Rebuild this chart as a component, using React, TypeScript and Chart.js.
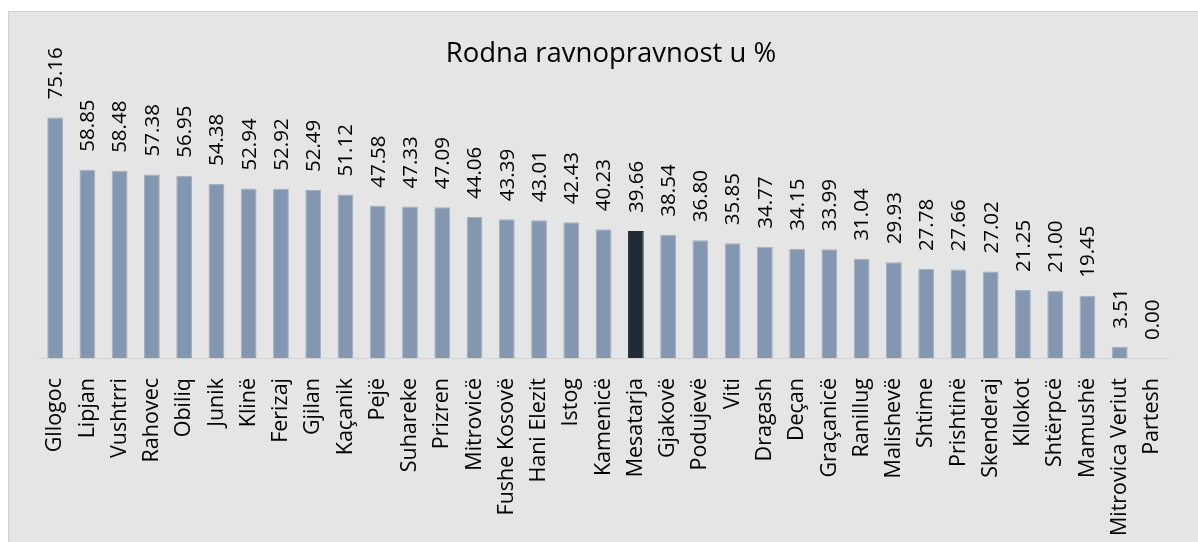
import React, { useEffect, useRef } from "react";
import { Chart, registerables } from "chart.js";

Chart.register(...registerables);

const titleText = "Rodna ravnopravnost u %";

const categories = [
  "Gllogoc", "Lipjan", "Vushtrri", "Rahovec", "Obiliq", "Junik", "Klinë", "Ferizaj", "Gjilan",
  "Kaçanik", "Pejë", "Suhareke", "Prizren", "Mitrovicë", "Fushe Kosovë", "Hani Elezit", "Istog",
  "Kamenicë", "Mesatarja", "Gjakovë", "Podujevë", "Viti", "Dragash", "Deçan", "Graçanicë",
  "Ranillug", "Malishevë", "Shtime", "Prishtinë", "Skenderaj", "Kllokot", "Shtërpcë", "Mamushë",
  "Mitrovica Veriut", "Partesh",
];

const values = [
  75.16, 58.85, 58.48, 57.38, 56.95, 54.38, 52.94, 52.92, 52.49,
  51.12, 47.58, 47.33, 47.09, 44.06, 43.39, 43.01, 42.43,
  40.23, 39.66, 38.54, 36.80, 35.85, 34.77, 34.15, 33.99,
  31.04, 29.93, 27.78, 27.66, 27.02, 21.25, 21.00, 19.45,
  3.51, 0.0,
];

const highlightCategory = "Mesatarja";

const FONT = "'Open Sans', sans-serif";
const BAR_COLOR = "#8497b0";
const HIGHLIGHT_COLOR = "#222a35";

const titlePlugin = {
  id: "customTitle",
  afterDraw(chart: any) {
    const ctx = chart.ctx;
    ctx.save();
    ctx.font = `27.5px ${FONT}`;
    ctx.fillStyle = "#000";
    ctx.textAlign = "center";
    ctx.textBaseline = "alphabetic";
    ctx.fillText(titleText, 602, 50);
    ctx.restore();
  },
};

const dataLabelPlugin = {
  id: "rotatedDataLabels",
  afterDatasetsDraw(chart: any) {
    const ctx = chart.ctx;
    const meta = chart.getDatasetMeta(0);
    ctx.save();
    ctx.font = `20.5px ${FONT}`;
    ctx.fillStyle = "#000";
    ctx.textAlign = "left";
    ctx.textBaseline = "middle";
    meta.data.forEach((bar: any, i: number) => {
      const v = values[i];
      ctx.save();
      ctx.translate(bar.x + 1, bar.y - 18);
      ctx.rotate(-Math.PI / 2);
      ctx.fillText(v.toFixed(2), 0, 0);
      ctx.restore();
    });
    ctx.restore();
  },
};

export default function App() {
  const canvasRef = useRef<HTMLCanvasElement | null>(null);

  useEffect(() => {
    if (!canvasRef.current) return;
    const chart = new Chart(canvasRef.current, {
      type: "bar",
      data: {
        labels: categories,
        datasets: [
          {
            data: values,
            backgroundColor: categories.map((c) => (c === highlightCategory ? HIGHLIGHT_COLOR : BAR_COLOR)),
            borderColor: categories.map((c) => (c === highlightCategory ? HIGHLIGHT_COLOR : "#a3b0c2")),
            borderWidth: 1,
            barPercentage: 0.49,
            categoryPercentage: 1,
          },
        ],
      },
      options: {
        animation: false,
        responsive: false,
        maintainAspectRatio: false,
        layout: { padding: { top: 90, left: 30, right: 15, bottom: 0 } },
        plugins: {
          legend: { display: false },
          title: { display: false },
          tooltip: { enabled: false },
        },
        scales: {
          x: {
            grid: { display: false, drawTicks: false },
            border: { display: true, color: "#d4d4d4", width: 1 },
            ticks: {
              minRotation: 90,
              maxRotation: 90,
              autoSkip: false,
              padding: 20,
              color: "#000",
              font: { family: FONT, size: 21.5 },
            },
            afterFit(scale: any) {
              scale.height = 184;
            },
          },
          y: {
            display: false,
            min: 0,
            max: 80,
          },
        },
      },
      plugins: [titlePlugin, dataLabelPlugin],
    });
    return () => chart.destroy();
  }, []);

  return (
    <div
      style={{
        position: "absolute",
        left: 8,
        top: 11,
        width: 1190,
        height: 531,
        background: "#e5e5e5",
        borderLeft: "1px solid #d0d0d0",
        borderTop: "1px solid #d0d0d0",
        boxSizing: "border-box",
        overflow: "hidden",
      }}
    >
      <canvas ref={canvasRef} width={1189} height={530} style={{ display: "block" }} />
    </div>
  );
}
